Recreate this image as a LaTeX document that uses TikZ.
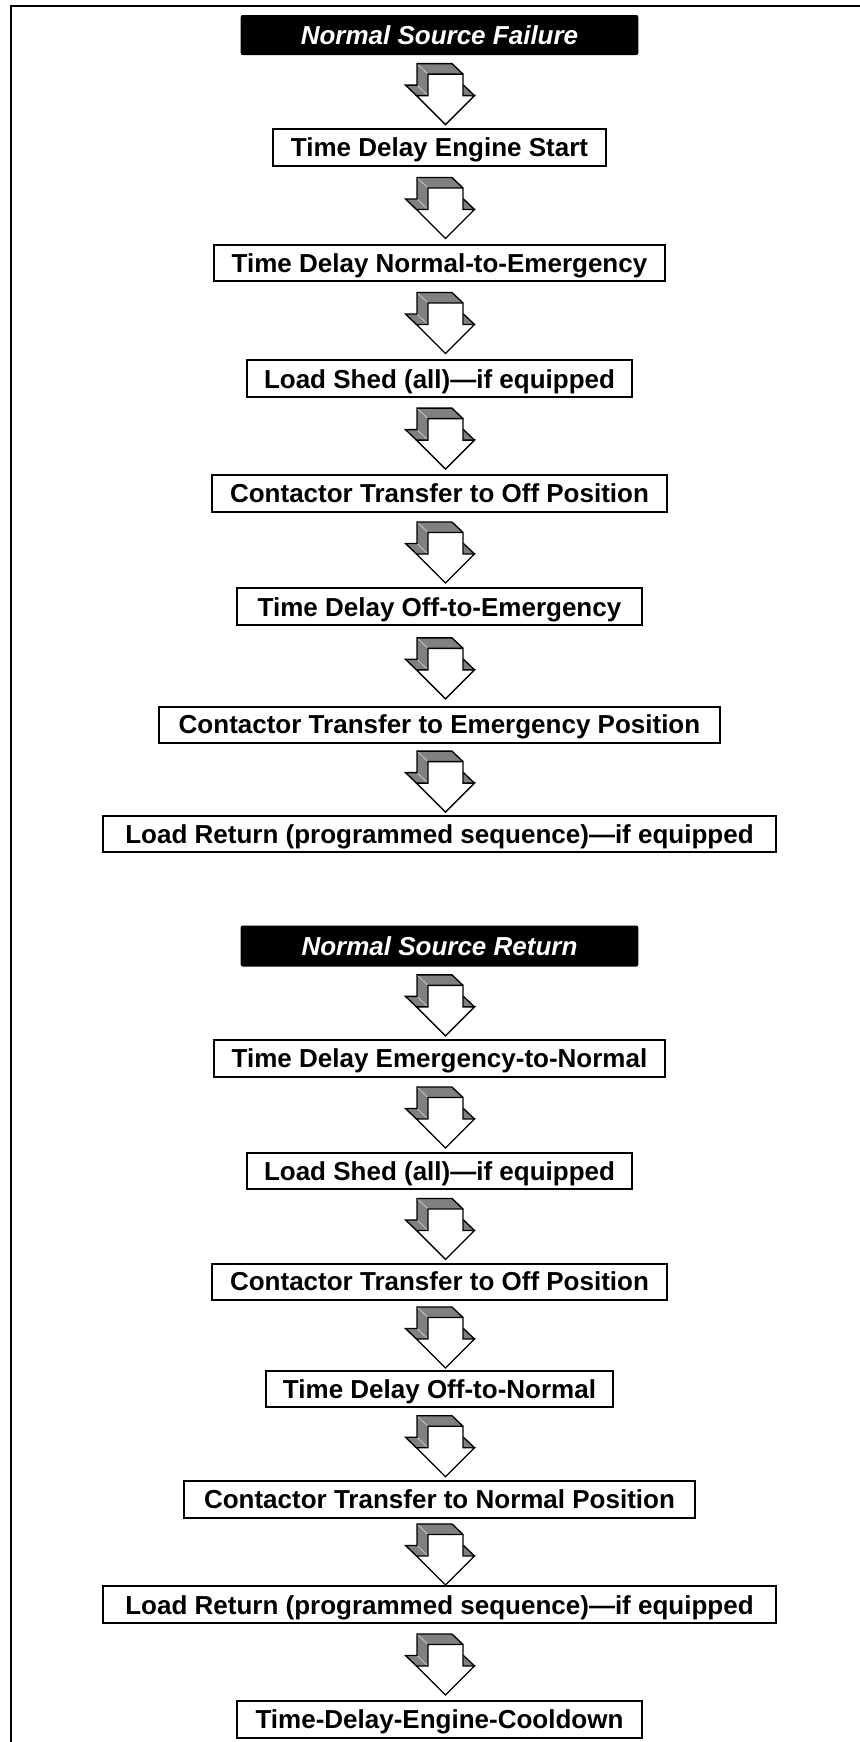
\documentclass[tikz,border=0pt]{standalone}
\usepackage{fontspec}
\setmainfont{Liberation Sans}
\usetikzlibrary{calc}
\definecolor{arrgray}{RGB}{128,128,128}
\definecolor{foldgray}{RGB}{200,200,200}
\tikzset{
  boxfont/.style={font=\fontsize{19.5pt}{23pt}\selectfont\bfseries},
  stepbox/.style={boxfont, draw=black, line width=1.5pt, fill=white, inner sep=0pt,
    text height=13.96pt, text depth=0pt},
  headbox/.style={font=\fontsize{19.5pt}{23pt}\selectfont\bfseries\itshape,
    fill=black, rounded corners=1.5pt, inner sep=0pt, text=white,
    text height=13.96pt, text depth=0pt},
  arrline/.style={draw=black, line width=1pt},
  frameline/.style={draw=black, line width=1.8pt},
  bigarrow/.pic={
    \fill[arrgray] (-28.5,-30.5) -- (6.5,-30.5) -- (6.5,-9) -- (18,-9) -- (-11,20) -- (-40,-9) -- (-28.5,-9) -- cycle;
    \fill[arrgray] (-17.5,-20) -- (17.5,-20) -- (6.5,-30.5) -- (-28.5,-30.5) -- cycle;
    \fill[arrgray] (-17.5,-20) -- (-17.5,1.5) -- (-28.5,-9) -- (-28.5,-30.5) -- cycle;
    \fill[arrgray] (-29,1.5) -- (-17.5,1.5) -- (-28.5,-9) -- (-40,-9) -- cycle;
    \fill[arrgray] (17.5,1.5) -- (29,1.5) -- (18,-9) -- (6.5,-9) -- cycle;
    \draw[foldgray, line width=0.6pt] (-28.5,-30.5) -- (-17.5,-20) (-28.5,-9) -- (-17.5,1.5);
    \draw[arrline] (-29,1.5) -- (-40,-9) -- (-28.5,-9) -- (-28.5,-30.5) -- (6.5,-30.5) -- (17.5,-20);
    \draw[arrline] (17.5,-9) -- (18,-9) -- (29,1.5);
    \filldraw[arrline, fill=white] (-17.5,-20) -- (17.5,-20) -- (17.5,1.5) -- (29,1.5) -- (0,30.5) -- (-29,1.5) -- (-17.5,1.5) -- cycle;
  }
}
\begin{document}
\begin{tikzpicture}[x=0.75pt, y=-0.75pt]
\useasboundingbox (0,0) rectangle (860,1742);
% outer frame (top and left only)
\coordinate (fbl) at (11,1742);
\coordinate (ftl) at (11,5.7);
\coordinate (ftr) at (860,5.7);
\draw[frameline] (fbl) -- (ftl) -- (ftr);

% first sequence
\node[headbox, minimum width=397.6*0.75pt, minimum height=40*0.75pt] (h1) at (439.5,35) {Normal Source Failure};
\node[stepbox, minimum width=333*0.75pt, minimum height=37*0.75pt] (b2) at (439.5,147.5) {Time Delay Engine Start};
\node[stepbox, minimum width=451*0.75pt, minimum height=36*0.75pt] (b3) at (439.5,263) {Time Delay Normal-to-Emergency};
\node[stepbox, minimum width=385.6*0.75pt, minimum height=37.3*0.75pt] (b4) at (439.5,378.7) {Load Shed (all)—if equipped};
\node[stepbox, minimum width=455.6*0.75pt, minimum height=36.7*0.75pt] (b5) at (439.5,493.3) {Contactor Transfer to Off Position};
\node[stepbox, minimum width=405.6*0.75pt, minimum height=36.7*0.75pt] (b6) at (439.5,606.7) {Time Delay Off-to-Emergency};
\node[stepbox, minimum width=560.4*0.75pt, minimum height=36*0.75pt] (b7) at (439.5,724.6) {Contactor Transfer to Emergency Position};
\node[stepbox, minimum width=672.4*0.75pt, minimum height=36.7*0.75pt] (b8) at (439.5,834) {Load Return (programmed sequence)—if equipped};

% second sequence
\node[headbox, minimum width=397.6*0.75pt, minimum height=41*0.75pt] (h2) at (439.5,946) {Normal Source Return};
\node[stepbox, minimum width=451*0.75pt, minimum height=37*0.75pt] (b10) at (439.5,1058.5) {Time Delay Emergency-to-Normal};
\node[stepbox, minimum width=385.6*0.75pt, minimum height=36.3*0.75pt] (b11) at (439.5,1171.2) {Load Shed (all)—if equipped};
\node[stepbox, minimum width=455.6*0.75pt, minimum height=36*0.75pt] (b12) at (439.5,1281.5) {Contactor Transfer to Off Position};
\node[stepbox, minimum width=347*0.75pt, minimum height=36.5*0.75pt] (b13) at (439.5,1388.8) {Time Delay Off-to-Normal};
\node[stepbox, minimum width=510.4*0.75pt, minimum height=37*0.75pt] (b14) at (439.5,1499) {Contactor Transfer to Normal Position};
\node[stepbox, minimum width=672.4*0.75pt, minimum height=36.6*0.75pt] (b15) at (439.5,1604.7) {Load Return (programmed sequence)—if equipped};
\node[stepbox, minimum width=404.4*0.75pt, minimum height=37*0.75pt] (b16) at (439.5,1719.5) {Time-Delay-Engine-Cooldown};

% 3D arrows between steps
\foreach \a/\b in {h1/b2, b2/b3, b3/b4, b4/b5, b5/b6, b6/b7, b7/b8,
                   h2/b10, b10/b11, b11/b12, b12/b13, b13/b14, b14/b15, b15/b16}
  \pic at ($(\a.south)!0.5!(\b.north)+(6,2.5)$) {bigarrow};
\end{tikzpicture}
\end{document}
